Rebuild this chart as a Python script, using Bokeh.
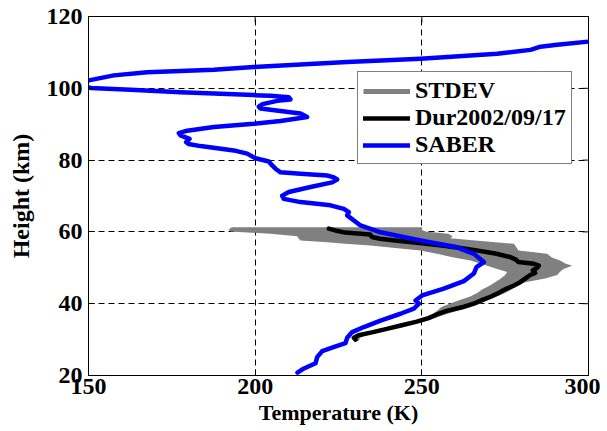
import math
from bokeh.plotting import figure
from bokeh.models import Range1d, Legend, LegendItem, FixedTicker
from bokeh.embed import file_html
from bokeh.resources import INLINE

# SABER temperature profile (K) vs height (km)
saber_T = [212.7, 214.5, 218.1, 218.6, 220.1, 223.5, 227.1, 227.6, 229.1, 232.6,
           237.6, 243.6, 247.6, 249.1, 248.1, 250.1, 256.6, 262.6, 265.6, 266.4,
           268.6, 265.6, 260.6, 249.6, 237.6, 231.6, 227.6, 228.1, 226.6, 222.6,
           213.6, 208.6, 208.1, 210.1, 216.6, 223.1, 224.6, 223.6, 221.6, 213.6,
           207.6, 206.1, 205.1, 204.1, 200.1, 197.6, 193.6, 188.6, 183.6, 180.0,
           179.3, 180.3, 177.6, 177.1, 179.6, 187.6, 199.6, 207.6, 215.6, 213.6,
           207.6, 201.6, 201.1, 202.2, 206.6, 210.6, 210.1, 204.6, 199.6, 183.6,
           177.6, 162.6, 150.6, 148.2, 148.2, 150.1, 157.6, 167.6, 187.6, 199.6,
           227.6, 249.6, 272.6, 282.6, 285.6, 290.6, 299.9]
saber_H = [20.8, 21.9, 23.4, 25.1, 26.8, 27.9, 29.0, 30.5, 32.1, 33.5,
           35.3, 37.2, 38.6, 40.0, 40.9, 42.3, 44.2, 46.3, 48.4, 50.2,
           51.6, 53.9, 55.7, 57.6, 59.9, 61.8, 64.6, 65.5, 66.4, 67.4,
           68.3, 69.2, 70.1, 71.1, 72.5, 73.8, 74.6, 75.2, 75.7, 76.2,
           76.6, 77.6, 78.5, 79.6, 80.5, 81.8, 82.7, 83.3, 83.9, 84.5,
           85.0, 85.9, 86.9, 87.5, 88.2, 89.2, 90.1, 90.9, 92.0, 93.0,
           93.7, 94.4, 94.9, 95.6, 96.5, 96.9, 97.5, 97.9, 98.1, 98.7,
           98.9, 99.6, 100.1, 100.8, 101.6, 102.2, 103.6, 104.5, 105.2, 105.9,
           107.3, 108.2, 109.6, 110.7, 111.6, 112.1, 113.0]

# Durban lidar 2002/09/17
dur_T = [230.1, 229.6, 231.0, 235.0, 239.5, 244.0, 248.5, 252.0, 254.5, 257.5,
         262.0, 265.5, 268.0, 270.8, 273.0, 275.0, 277.5, 279.5, 281.0, 282.5,
         284.0, 283.3, 284.6, 285.1, 283.6, 279.0, 278.3, 276.5, 272.0, 265.5,
         261.0, 256.0, 248.5, 242.0, 237.5, 235.0, 234.5, 227.0, 224.5, 222.1]
dur_H = [30.0, 30.5, 31.2, 32.0, 33.0, 34.0, 35.0, 36.0, 37.0, 38.0,
         39.0, 40.0, 41.0, 42.0, 43.0, 44.0, 45.0, 46.0, 47.0, 48.0,
         48.6, 49.3, 50.0, 50.6, 51.1, 51.6, 52.2, 53.0, 54.0, 55.0,
         55.6, 56.2, 57.0, 57.6, 58.1, 58.6, 59.3, 59.8, 60.3, 60.9]

# STDEV envelope
stdev_H = [29.6, 30.5, 31.2, 32, 33, 34, 35, 36, 37, 38, 39, 40, 41, 42, 43, 44, 45,
           46, 47, 48, 48.8, 49.7, 50.6, 51.2, 52.0, 52.9, 53.9, 54.8, 55.5, 56.2,
           56.7, 57.1, 57.6, 58.2, 58.8, 59.5, 60.1, 60.6, 61.3]
stdev_left = [229.5, 229.0, 230.0, 233.5, 238.0, 242.5, 247.0, 250.5, 253.0, 254.5,
              255.8, 258.3, 261.4, 264.5, 266.6, 268.2, 270.3, 272.0, 273.7, 275.0,
              275.6, 272.6, 269.6, 267.5, 264.6, 259.6, 254.5, 249.6, 242.0, 234.6,
              227.0, 221.6, 213.6, 213.0, 212.6, 204.6, 192.6, 192.0, 193.0]
stdev_right = [231.0, 231.5, 233.0, 237.0, 241.5, 246.0, 250.5, 254.0, 257.0, 260.5,
               264.6, 267.5, 270.0, 272.5, 275.0, 277.0, 278.6, 281.0, 287.0, 290.6,
               291.4, 292.5, 295.1, 293.0, 291.5, 289.0, 287.6, 279.0, 278.5, 278.0,
               277.6, 272.0, 266.0, 258.6, 259.2, 258.0, 251.0, 250.0, 250.1]

x_ticks = [150, 200, 250, 300]
y_ticks = [20, 40, 60, 80, 100, 120]

FONT = "Liberation Serif"

p = figure(width=600, height=428,
           x_range=Range1d(x_ticks[0], x_ticks[-1]), y_range=Range1d(y_ticks[0], y_ticks[-1]),
           output_backend="svg", toolbar_location=None,
           min_border_left=88, min_border_right=12, min_border_top=16, min_border_bottom=53,
           x_axis_label="Temperature (K)", y_axis_label="Height (km)")
p.outline_line_color = "black"
p.outline_line_width = 1

for g, ticks in ((p.xgrid, x_ticks), (p.ygrid, y_ticks)):
    g.ticker = FixedTicker(ticks=ticks)
    g.grid_line_color = "black"
    g.grid_line_dash = "6 4"
    g.grid_line_width = 1

for ax, ticks, lsize in ((p.xaxis[0], x_ticks, "22px"), (p.yaxis[0], y_ticks, "24px")):
    ax.ticker = FixedTicker(ticks=ticks)
    ax.axis_line_color = "black"
    ax.major_tick_in = 6
    ax.major_tick_out = 0
    ax.minor_tick_in = 0
    ax.minor_tick_out = 0
    ax.major_tick_line_color = "black"
    ax.major_label_text_font = FONT
    ax.major_label_text_font_style = "bold"
    ax.major_label_text_font_size = "24px"
    ax.major_label_text_color = "black"
    ax.axis_label_text_font = FONT
    ax.axis_label_text_font_style = "bold"
    ax.axis_label_text_font_size = lsize
    ax.axis_label_text_color = "black"
p.xaxis.major_label_standoff = 3
p.yaxis.major_label_standoff = 6
p.xaxis.axis_label_standoff = 3
p.yaxis.axis_label_standoff = 10

# inward ticks on right and top frame edges (MATLAB box style); clipped to frame
p.scatter(x=[x_ticks[-1]] * len(y_ticks), y=y_ticks, marker="dash", size=12,
          line_color="black", line_width=1)
p.scatter(x=x_ticks, y=[y_ticks[-1]] * len(x_ticks), marker="dash", size=12,
          angle=math.pi / 2, line_color="black", line_width=1)

band = p.harea(x1=stdev_left, x2=stdev_right, y=stdev_H, fill_color="#808080")
band_key = p.line(x=stdev_left, y=stdev_H, line_color="#808080", line_width=5, visible=False)
dur = p.line(x=dur_T, y=dur_H, line_color="black", line_width=4.5, line_join="round", line_cap="round")
saber = p.line(x=saber_T, y=saber_H, line_color="#0000ff", line_width=4.5, line_join="round", line_cap="round")

legend = Legend(items=[LegendItem(label="STDEV", renderers=[band_key]),
                       LegendItem(label="Dur2002/09/17", renderers=[dur]),
                       LegendItem(label="SABER", renderers=[saber])],
                location=(269, 211))
legend.label_text_font = FONT
legend.label_text_font_style = "bold"
legend.label_text_font_size = "24px"
legend.label_text_color = "black"
legend.glyph_width = 47
legend.glyph_height = 24
legend.label_height = 24
legend.label_standoff = 5
legend.padding = 5
legend.spacing = 0
legend.margin = 0
legend.border_line_color = "black"
legend.border_line_width = 1
legend.background_fill_color = "white"
legend.background_fill_alpha = 1
legend.inactive_fill_alpha = 0
legend.click_policy = "none"
p.add_layout(legend, "center")

open("out.html", "w").write(file_html(p, INLINE))
